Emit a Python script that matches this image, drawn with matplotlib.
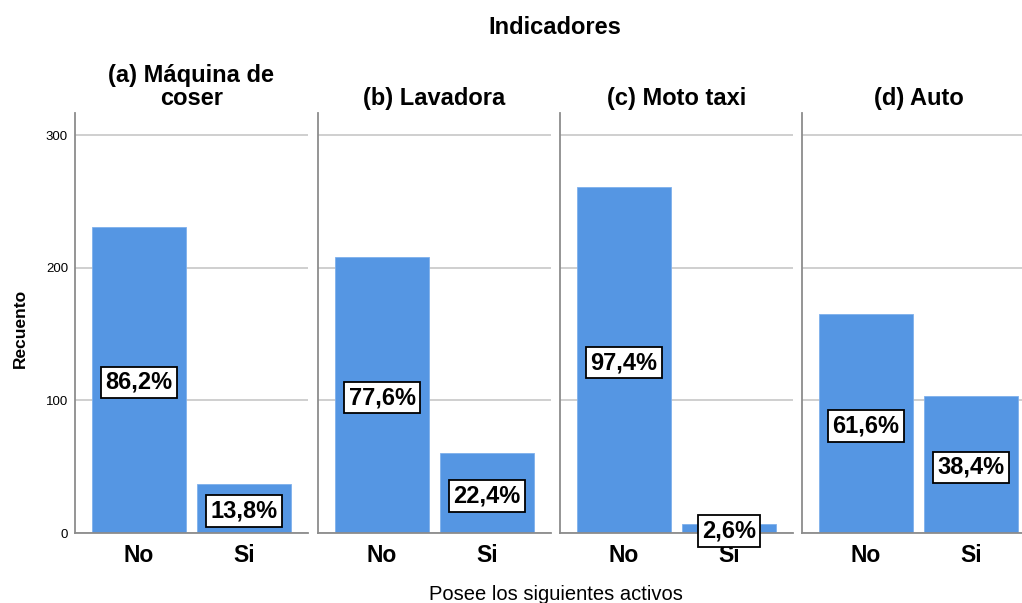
#!/usr/bin/env python3
# plot.py - recuento de activos por indicador (estilo SPSS)

import matplotlib
matplotlib.use('Agg')
import matplotlib.pyplot as plt

# ----------------------------
# Datos
# ----------------------------
paneles   = ['(a) Máquina de\ncoser', '(b) Lavadora', '(c) Moto taxi', '(d) Auto']
categorias = ['No', 'Si']
cuenta_no = [231, 208, 261, 165]
cuenta_si = [37, 60, 7, 103]
y_ticks   = [0, 100, 200, 300]

COLOR_BARRA = '#5596e3'
COLOR_EJE   = '#8c8c8c'
COLOR_GRID  = '#cfcfcf'

plt.rcParams['font.family'] = ['Liberation Sans', 'DejaVu Sans']

W, H = 1022, 603
fig = plt.figure(figsize=(W / 100, H / 100), dpi=100)

lefts   = [75, 318, 560, 802]
ancho   = 233
y_base  = 533
y_top   = 113

for i, titulo in enumerate(paneles):
    ax = fig.add_axes([lefts[i] / W, 1 - y_base / H, ancho / W, (y_base - y_top) / H])
    valores = [cuenta_no[i], cuenta_si[i]]
    total = sum(valores)
    ax.bar([0, 1], valores, width=0.895, color=COLOR_BARRA,
           edgecolor='#7fb0ec', linewidth=0.6, zorder=2)
    ax.set_xlim(-0.61, 1.61)
    ax.set_ylim(0, 316.6)
    ax.set_xticks([0, 1])
    ax.set_xticklabels(categorias, fontsize=16.5, fontweight='bold')
    ax.set_yticks(y_ticks)
    if i == 0:
        ax.set_yticklabels([str(v) for v in y_ticks], fontsize=9.5)
    else:
        ax.set_yticklabels([])
    ax.tick_params(axis='x', length=0, pad=8)
    ax.tick_params(axis='y', length=0, pad=5)
    ax.grid(axis='y', color=COLOR_GRID, linewidth=1.4, zorder=0)
    ax.set_axisbelow(True)
    for s in ['top', 'right']:
        ax.spines[s].set_visible(False)
    for s in ['left', 'bottom']:
        ax.spines[s].set_color(COLOR_EJE)
        ax.spines[s].set_linewidth(1.3)
    ax.set_title(titulo, fontsize=17, fontweight='bold', pad=6, linespacing=1.0)

    # etiquetas de porcentaje
    for x, v in zip([0, 1], valores):
        pct = f'{100 * v / total:.1f}%'.replace('.', ',')
        ax.text(x, v / 2 - 2, pct, ha='center', va='center', fontsize=17,
                fontweight='bold', zorder=4,
                bbox=dict(boxstyle='square,pad=0.18', facecolor='white',
                          edgecolor='black', linewidth=1.3))

fig.text(555 / W, 1 - 27 / H, 'Indicadores', ha='center', va='center',
         fontsize=17, fontweight='bold')
fig.text(20 / W, 1 - 328 / H, 'Recuento', ha='center', va='center',
         rotation=90, fontsize=12.5, fontweight='bold')
fig.text(556 / W, 1 - 595 / H, 'Posee los siguientes activos', ha='center',
         va='center', fontsize=14.5)

fig.savefig('out.png', dpi=100)
